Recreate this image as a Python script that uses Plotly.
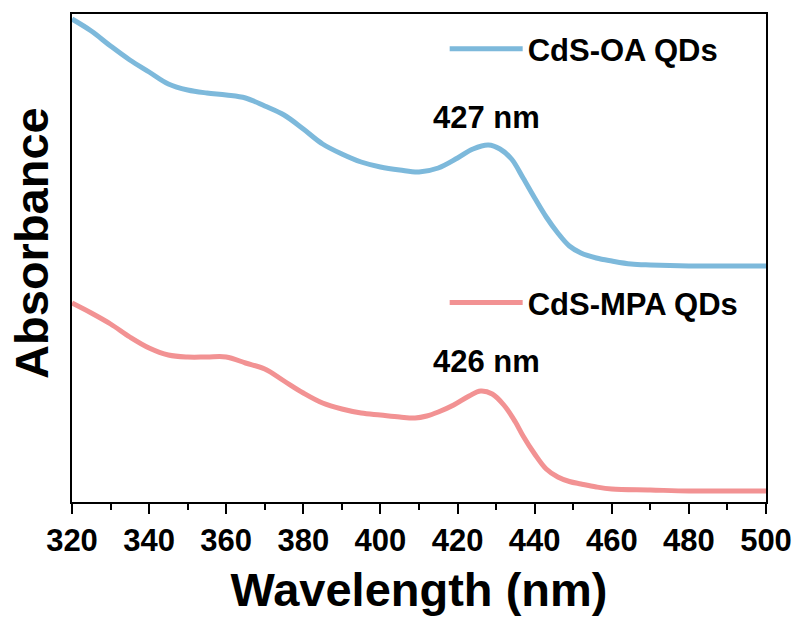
import plotly.graph_objects as go

# Wavelength (nm) and absorbance (arbitrary units, offset curves)
wl_oa = [320, 325, 330, 335, 340, 345, 350, 355, 360, 365, 370, 375, 380, 385, 390, 395,
         400, 405, 410, 415, 420, 424, 428, 431, 434, 437, 440, 443, 446, 449, 452, 456,
         460, 465, 470, 480, 490, 500]
abs_oa = [4.83, 4.71, 4.56, 4.42, 4.30, 4.18, 4.12, 4.09, 4.07, 4.04, 3.96, 3.87, 3.73,
          3.58, 3.48, 3.40, 3.35, 3.32, 3.30, 3.34, 3.44, 3.53, 3.57, 3.53, 3.43, 3.24,
          3.04, 2.85, 2.69, 2.56, 2.49, 2.44, 2.41, 2.38, 2.37, 2.36, 2.36, 2.36]

wl_mpa = [320, 325, 330, 335, 340, 345, 350, 355, 360, 365, 370, 375, 380, 385, 390, 395,
          400, 405, 409, 412, 415, 419, 423, 426, 429, 432, 435, 437, 440, 443, 446, 449,
          452, 456, 460, 470, 480, 490, 500]
abs_mpa = [1.99, 1.89, 1.78, 1.65, 1.54, 1.47, 1.45, 1.45, 1.45, 1.39, 1.33, 1.21, 1.09,
           0.99, 0.93, 0.89, 0.87, 0.85, 0.84, 0.86, 0.90, 0.97, 1.06, 1.11, 1.08, 0.97,
           0.80, 0.66, 0.48, 0.33, 0.25, 0.205, 0.18, 0.15, 0.13, 0.12, 0.11, 0.11, 0.11]

x_ticks = [320, 340, 360, 380, 400, 420, 440, 460, 480, 500]
peak_labels = [("427 nm", 427.5, 3.85), ("426 nm", 427.5, 1.41)]

BLUE = "#7DB9DB"
RED = "#F29293"
FONT = "Liberation Sans, Arial, sans-serif"

fig = go.Figure()
fig.add_trace(go.Scatter(x=wl_oa, y=abs_oa, mode="lines", name="CdS-OA QDs",
                         line=dict(color=BLUE, width=5, shape="spline", smoothing=1.0),
                         legend="legend"))
fig.add_trace(go.Scatter(x=wl_mpa, y=abs_mpa, mode="lines", name="CdS-MPA QDs",
                         line=dict(color=RED, width=5, shape="spline", smoothing=1.0),
                         legend="legend2"))

for txt, xv, yv in peak_labels:
    fig.add_annotation(x=xv, y=yv, text=txt, showarrow=False, xref="x", yref="y",
                       font=dict(family=FONT, size=31, color="black", weight="bold"))

fig.add_annotation(x=-0.0576, y=0.531, xref="paper", yref="paper", text="Absorbance",
                   textangle=-90, showarrow=False, xanchor="center", yanchor="middle",
                   font=dict(family=FONT, size=47, color="black", weight="bold"))

legend_common = dict(font=dict(family=FONT, size=31, color="black", weight="bold"),
                     bgcolor="rgba(0,0,0,0)", itemwidth=73, xanchor="left",
                     yanchor="middle", tracegroupgap=0)

fig.update_layout(
    width=795, height=628,
    margin=dict(l=72, r=29, t=14, b=126),
    paper_bgcolor="white", plot_bgcolor="white",
    showlegend=True,
    legend=dict(x=0.537, y=0.928, **legend_common),
    legend2=dict(x=0.537, y=0.408, **legend_common),
    xaxis=dict(range=[320, 500], tickvals=x_ticks, ticks="outside", ticklen=10,
               tickwidth=2, tickcolor="black", showline=True, linewidth=2,
               linecolor="black", mirror=True, showgrid=False, zeroline=False,
               automargin=False,
               tickfont=dict(family=FONT, size=31, color="black", weight="bold"),
               minor=dict(dtick=10, ticks="outside", ticklen=6, tickwidth=2,
                          tickcolor="black", showgrid=False),
               title=dict(text="Wavelength (nm)", standoff=16,
                          font=dict(family=FONT, size=47, color="black", weight="bold"))),
    yaxis=dict(range=[0, 4.88], showticklabels=False, ticks="", showline=True,
               linewidth=2, linecolor="black", mirror=True, showgrid=False,
               zeroline=False, automargin=False),
)

fig.write_html("out.html")
